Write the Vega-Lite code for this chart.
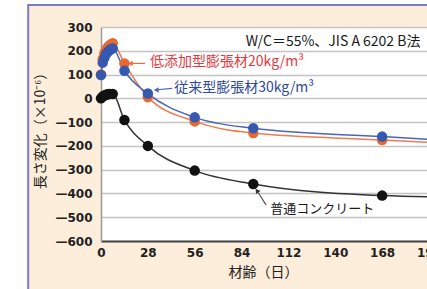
{
  "$schema": "https://vega.github.io/schema/vega-lite/v6.json",
  "autosize": {"type": "none"},
  "padding": {"left": 101, "top": 27, "right": 0, "bottom": 48},
  "width": 326,
  "height": 214,
  "background": "#fdeedb",
  "config": {
    "view": {"fill": "white", "stroke": null},
    "font": "Noto Sans CJK JP",
    "axisX": {
      "tickCount": 12,
      "titleFontSize": 14,
      "titleFontWeight": "normal",
      "titleColor": "#222",
      "titleX": 162,
      "titleY": 31,
      "titleBaseline": "middle",
      "titleAlign": "center",
      "grid": false,
      "ticks": false,
      "labelFont": "DejaVu Sans",
      "labelFontSize": 12,
      "labelFontWeight": "bold",
      "labelColor": "#222",
      "labelPadding": 6,
      "labelFlush": false,
      "labelOverlap": false,
      "domainColor": "#444",
      "domainWidth": 2
    },
    "axisY": {
      "tickCount": 12,
      "labelExpr": "datum.value < 0 ? '—' + format(-datum.value, 'd') : format(datum.value, 'd')",
      "titleFontSize": 14,
      "titleFontWeight": "normal",
      "titleColor": "#222",
      "titleAngle": -90,
      "titleX": -61,
      "titleY": 100,
      "titleBaseline": "middle",
      "titleAlign": "center",
      "grid": true,
      "gridColor": "#c4c4c4",
      "gridWidth": 1.5,
      "ticks": false,
      "labelFont": "DejaVu Sans",
      "labelFontSize": 12,
      "labelFontWeight": "bold",
      "labelColor": "#222",
      "labelPadding": 9,
      "labelOverlap": false,
      "domainColor": "#999",
      "domainWidth": 1.5
    }
  },
  "layer": [
    {
      "data": {
        "values": [
          {"day": 0, "value": 100, "series": "低添加型膨張材20kg/m³"},
          {"day": 1, "value": 165, "series": "低添加型膨張材20kg/m³"},
          {"day": 2, "value": 190, "series": "低添加型膨張材20kg/m³"},
          {"day": 3, "value": 205, "series": "低添加型膨張材20kg/m³"},
          {"day": 4, "value": 215, "series": "低添加型膨張材20kg/m³"},
          {"day": 5, "value": 222, "series": "低添加型膨張材20kg/m³"},
          {"day": 6, "value": 228, "series": "低添加型膨張材20kg/m³"},
          {"day": 7, "value": 232, "series": "低添加型膨張材20kg/m³"},
          {"day": 14, "value": 147, "series": "低添加型膨張材20kg/m³"},
          {"day": 28, "value": 5, "series": "低添加型膨張材20kg/m³"},
          {"day": 56, "value": -97, "series": "低添加型膨張材20kg/m³"},
          {"day": 91, "value": -146, "series": "低添加型膨張材20kg/m³"},
          {"day": 168, "value": -175, "series": "低添加型膨張材20kg/m³"},
          {"day": 224, "value": -196, "series": "低添加型膨張材20kg/m³"},
          {"day": 0, "value": 98, "series": "従来型膨張材30kg/m³"},
          {"day": 1, "value": 150, "series": "従来型膨張材30kg/m³"},
          {"day": 2, "value": 170, "series": "従来型膨張材30kg/m³"},
          {"day": 3, "value": 185, "series": "従来型膨張材30kg/m³"},
          {"day": 4, "value": 195, "series": "従来型膨張材30kg/m³"},
          {"day": 5, "value": 202, "series": "従来型膨張材30kg/m³"},
          {"day": 6, "value": 207, "series": "従来型膨張材30kg/m³"},
          {"day": 7, "value": 210, "series": "従来型膨張材30kg/m³"},
          {"day": 14, "value": 116, "series": "従来型膨張材30kg/m³"},
          {"day": 28, "value": 20, "series": "従来型膨張材30kg/m³"},
          {"day": 56, "value": -80, "series": "従来型膨張材30kg/m³"},
          {"day": 91, "value": -126, "series": "従来型膨張材30kg/m³"},
          {"day": 168, "value": -161, "series": "従来型膨張材30kg/m³"},
          {"day": 224, "value": -184, "series": "従来型膨張材30kg/m³"},
          {"day": 0, "value": 0, "series": "普通コンクリート"},
          {"day": 1, "value": 8, "series": "普通コンクリート"},
          {"day": 2, "value": 12, "series": "普通コンクリート"},
          {"day": 3, "value": 15, "series": "普通コンクリート"},
          {"day": 4, "value": 17, "series": "普通コンクリート"},
          {"day": 5, "value": 18, "series": "普通コンクリート"},
          {"day": 7, "value": 18, "series": "普通コンクリート"},
          {"day": 14, "value": -91, "series": "普通コンクリート"},
          {"day": 28, "value": -200, "series": "普通コンクリート"},
          {"day": 56, "value": -304, "series": "普通コンクリート"},
          {"day": 91, "value": -360, "series": "普通コンクリート"},
          {"day": 168, "value": -409, "series": "普通コンクリート"},
          {"day": 224, "value": -417, "series": "普通コンクリート"}
        ]
      },
      "encoding": {
        "x": {
          "field": "day",
          "type": "quantitative",
          "scale": {"domain": [0, 196], "range": [0, 328], "nice": false, "zero": false},
          "axis": {"values": [0, 28, 56, 84, 112, 140, 168, 196], "title": "材齢（日）"}
        },
        "y": {
          "field": "value",
          "type": "quantitative",
          "scale": {"domain": [-600, 300], "nice": false, "zero": false},
          "axis": {"values": [-600, -500, -400, -300, -200, -100, 0, 100, 200, 300], "title": "長さ変化（×10⁻⁶）"}
        },
        "color": {
          "field": "series",
          "type": "nominal",
          "scale": {
            "domain": ["低添加型膨張材20kg/m³", "従来型膨張材30kg/m³", "普通コンクリート"],
            "range": ["#ef7b52", "#4a66b4", "#333333"]
          },
          "legend": null
        }
      },
      "layer": [
        {
          "mark": {"type": "line", "interpolate": "monotone", "strokeWidth": 1.5, "clip": false}
        },
        {
          "mark": {"type": "point", "filled": true, "opacity": 1, "size": 110, "clip": false},
          "encoding": {
            "fill": {
              "field": "series",
              "type": "nominal",
              "scale": {
                "domain": ["低添加型膨張材20kg/m³", "従来型膨張材30kg/m³", "普通コンクリート"],
                "range": ["#e8682e", "#3558b0", "#111111"]
              },
              "legend": null
            }
          }
        }
      ]
    },
    {
      "data": {"values": [{}]},
      "mark": {"type": "rect", "fill": "white", "clip": false},
      "encoding": {
        "x": {"datum": -80, "type": "quantitative"},
        "x2": {"datum": -44.3},
        "y": {"datum": -900, "type": "quantitative"},
        "y2": {"datum": 450}
      }
    },
    {
      "data": {"values": [{}]},
      "mark": {"type": "rect", "fill": "white", "clip": false},
      "encoding": {
        "x": {"datum": -80, "type": "quantitative"},
        "x2": {"datum": 300},
        "y": {"datum": 396.5, "type": "quantitative"},
        "y2": {"datum": 450}
      }
    },
    {
      "data": {"values": [{}]},
      "mark": {"type": "rule", "color": "#7c7cc4", "strokeWidth": 2, "clip": false},
      "encoding": {
        "x": {"datum": -43.5, "type": "quantitative"},
        "y": {"datum": 393, "type": "quantitative"},
        "y2": {"datum": -900}
      }
    },
    {
      "data": {"values": [{}]},
      "mark": {"type": "rule", "color": "#7c7cc4", "strokeWidth": 2, "clip": false},
      "encoding": {
        "x": {"datum": -44.1, "type": "quantitative"},
        "x2": {"datum": 300},
        "y": {"datum": 392.5, "type": "quantitative"}
      }
    },
    {
      "data": {"values": [{}]},
      "mark": {"type": "rule", "color": "#ee6a40", "strokeWidth": 1.2},
      "encoding": {
        "x": {"datum": 26.3, "type": "quantitative"},
        "x2": {"datum": 18},
        "y": {"datum": 147, "type": "quantitative"},
        "y2": {"datum": 147}
      }
    },
    {
      "data": {"values": [{}]},
      "mark": {"type": "point", "shape": "triangle-left", "filled": true, "size": 30, "color": "#ee6a40", "opacity": 1},
      "encoding": {
        "x": {"datum": 17.5, "type": "quantitative"},
        "y": {"datum": 147, "type": "quantitative"}
      }
    },
    {
      "data": {"values": [{}]},
      "mark": {"type": "rule", "color": "#4a66b4", "strokeWidth": 1.2},
      "encoding": {
        "x": {"datum": 42.5, "type": "quantitative"},
        "x2": {"datum": 33.5},
        "y": {"datum": 42, "type": "quantitative"},
        "y2": {"datum": 36}
      }
    },
    {
      "data": {"values": [{}]},
      "mark": {"type": "point", "shape": "triangle-left", "filled": true, "size": 30, "color": "#4a66b4", "opacity": 1},
      "encoding": {
        "x": {"datum": 33, "type": "quantitative"},
        "y": {"datum": 35.5, "type": "quantitative"}
      }
    },
    {
      "data": {"values": [{}]},
      "mark": {"type": "rule", "color": "#555", "strokeWidth": 1.2},
      "encoding": {
        "x": {"datum": 98.6, "type": "quantitative"},
        "x2": {"datum": 93.8},
        "y": {"datum": -448, "type": "quantitative"},
        "y2": {"datum": -395}
      }
    },
    {
      "data": {"values": [{}]},
      "mark": {"type": "point", "shape": "triangle-up", "filled": true, "size": 30, "color": "#333", "opacity": 1, "angle": -35},
      "encoding": {
        "x": {"datum": 93.2, "type": "quantitative"},
        "y": {"datum": -388, "type": "quantitative"}
      }
    },
    {
      "data": {"values": [{}]},
      "mark": {"type": "text", "text": "W/C＝55%、JIS A 6202 B法", "align": "right", "baseline": "middle", "fontSize": 14, "color": "#1a1a1a"},
      "encoding": {
        "x": {"datum": 190.9, "type": "quantitative"},
        "y": {"datum": 238, "type": "quantitative"}
      }
    },
    {
      "data": {"values": [{}]},
      "mark": {"type": "text", "text": "低添加型膨張材20kg/m³", "align": "left", "baseline": "middle", "fontSize": 14, "color": "#e8383d"},
      "encoding": {
        "x": {"datum": 29.3, "type": "quantitative"},
        "y": {"datum": 154, "type": "quantitative"}
      }
    },
    {
      "data": {"values": [{}]},
      "mark": {"type": "text", "text": "従来型膨張材30kg/m³", "align": "left", "baseline": "middle", "fontSize": 14, "color": "#2e4a9a"},
      "encoding": {
        "x": {"datum": 43.7, "type": "quantitative"},
        "y": {"datum": 45, "type": "quantitative"}
      }
    },
    {
      "data": {"values": [{}]},
      "mark": {"type": "text", "text": "普通コンクリート", "align": "left", "baseline": "middle", "fontSize": 13, "color": "#1a1a1a"},
      "encoding": {
        "x": {"datum": 101.1, "type": "quantitative"},
        "y": {"datum": -467, "type": "quantitative"}
      }
    }
  ]
}
